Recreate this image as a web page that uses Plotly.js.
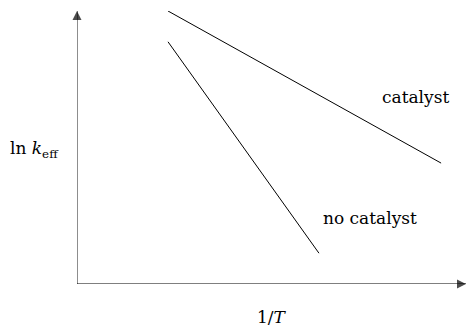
<!DOCTYPE html>
<html>
<head>
<meta charset="utf-8">
<script src="https://cdn.plot.ly/plotly-3.0.1.min.js"></script>
<style>
  html, body { margin: 0; padding: 0; background: #fff; }
  #chart { width: 467px; height: 331px; }
</style>
</head>
<body>
<div id="chart"></div>
<script>
// schematic Arrhenius plot: ln k_eff against 1/T (arbitrary units)
var seriesNames = ['catalyst', 'no catalyst'];
var invT_catalyst = [2.34, 9.36];
var lnk_catalyst = [7.0, 3.1];
var invT_noCatalyst = [2.34, 6.22];
var lnk_noCatalyst = [6.21, 0.79];

var xMax = 10, yMax = 7;
var serif = 'DejaVu Serif, Liberation Serif, serif';

var trace1 = {
  type: 'scatter',
  mode: 'lines',
  name: seriesNames[0],
  x: invT_catalyst,
  y: lnk_catalyst,
  line: { color: '#000', width: 1 },
  cliponaxis: false,
  hoverinfo: 'skip'
};

var trace2 = {
  type: 'scatter',
  mode: 'lines',
  name: seriesNames[1],
  x: invT_noCatalyst,
  y: lnk_noCatalyst,
  line: { color: '#000', width: 1 },
  cliponaxis: false,
  hoverinfo: 'skip'
};

// axis arrows: 'arrow-*' symbols put their tip on the point
var xAxisArrow = {
  type: 'scatter',
  mode: 'lines+markers',
  x: [0, xMax],
  y: [0, 0],
  line: { color: '#000', width: 1.2 },
  marker: { symbol: 'arrow-right', size: [0, 9], color: '#000', line: { width: 0 } },
  cliponaxis: false,
  hoverinfo: 'skip'
};

var yAxisArrow = {
  type: 'scatter',
  mode: 'lines+markers',
  x: [0, 0],
  y: [0, yMax],
  line: { color: '#808080', width: 1.8 },
  marker: { symbol: 'arrow-up', size: [0, 9], color: '#000', line: { width: 0 } },
  cliponaxis: false,
  hoverinfo: 'skip'
};

var hidden = {
  showgrid: false,
  zeroline: false,
  showline: false,
  showticklabels: false,
  ticks: '',
  fixedrange: true
};

var layout = {
  width: 467,
  height: 331,
  margin: { l: 77, r: 1, t: 11, b: 47 },
  paper_bgcolor: '#fff',
  plot_bgcolor: '#fff',
  showlegend: false,
  font: { family: serif, size: 17, color: '#000' },
  xaxis: Object.assign({ range: [0, xMax] }, hidden),
  yaxis: Object.assign({ range: [0, yMax] }, hidden),
  annotations: [
    { x: 8.71, y: 4.79, text: seriesNames[0], showarrow: false, xanchor: 'center' },
    { x: 7.53, y: 1.69, text: seriesNames[1], showarrow: false, xanchor: 'center' },
    { xref: 'paper', yref: 'paper', x: -0.108, y: 0.491, xanchor: 'center', yanchor: 'middle',
      text: 'ln <i>k</i><sub>eff</sub>', showarrow: false },
    { xref: 'paper', yref: 'paper', x: 0.501, y: -0.121, xanchor: 'center', yanchor: 'middle',
      text: '1/<i>T</i>', showarrow: false }
  ]
};

Plotly.newPlot('chart', [yAxisArrow, xAxisArrow, trace1, trace2], layout, { displayModeBar: false, staticPlot: true });
</script>
</body>
</html>
